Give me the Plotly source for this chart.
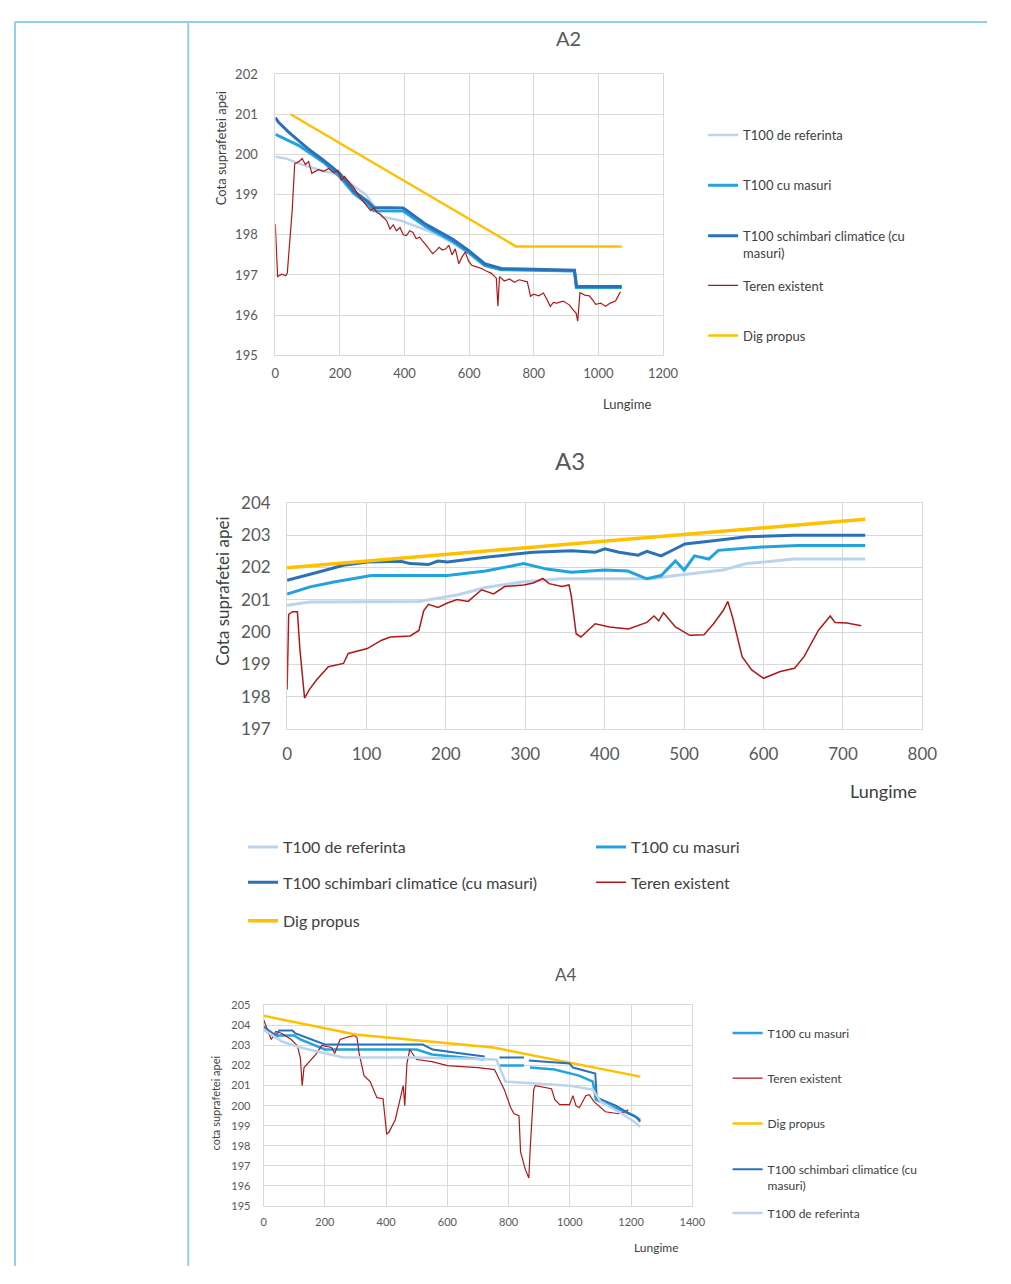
import plotly.graph_objects as go

# reference page size; the figure itself is drawn slightly smaller so the
# default 8px page margin of the html body keeps everything in view
W, H = 1011, 1284
PAGE_MARGIN = 8
FIG_W, FIG_H = W - 2 * PAGE_MARGIN, H - 2 * PAGE_MARGIN

FONT_FAMILY = "Lato"
COLOR_TEXT = "#595959"
COLOR_LEGEND = "#404040"
COLOR_GRID = "#d9d9d9"
COLOR_FRAME = "#92d0e8"

COLOR_REF = "#bcd3ec"
COLOR_CU = "#23a3dd"
COLOR_SCH = "#2b70b8"
COLOR_TEREN = "#b01818"
COLOR_DIG = "#ffc000"

NAME_REF = "T100 de referinta"
NAME_CU = "T100 cu masuri"
NAME_SCH = "T100 schimbari climatice (cu masuri)"
NAME_TEREN = "Teren existent"
NAME_DIG = "Dig propus"

# ---------------- A2 ----------------
A2_X_DIG = [47, 745, 1072]
A2_Y_DIG = [201.0, 197.71, 197.71]

A2_X_SCH = [0, 10, 42, 100, 150, 199, 244, 285, 305, 395, 405, 466, 547, 598, 648, 699, 800, 926, 932, 1072]
A2_Y_SCH = [200.92, 200.8, 200.55, 200.15, 199.85, 199.53, 199.08, 198.84, 198.68, 198.67, 198.62, 198.26, 197.9, 197.61, 197.28, 197.16, 197.14, 197.12, 196.71, 196.71]

A2_X_CU = [0, 73, 150, 199, 244, 285, 305, 395, 405, 466, 547, 598, 648, 699, 800, 926, 932, 1072]
A2_Y_CU = [200.5, 200.22, 199.8, 199.45, 199.02, 198.78, 198.6, 198.59, 198.54, 198.2, 197.85, 197.56, 197.24, 197.13, 197.12, 197.1, 196.69, 196.69]

A2_X_REF = [0, 32, 73, 143, 194, 280, 330, 390, 466, 517, 598, 648, 699, 800, 926, 936, 1072]
A2_Y_REF = [199.94, 199.9, 199.77, 199.6, 199.5, 199.0, 198.45, 198.35, 198.12, 197.94, 197.55, 197.23, 197.13, 197.12, 197.1, 196.68, 196.68]

A2_X_TEREN = [0, 4, 7, 20, 32, 37, 42, 52, 60, 73, 83, 93, 103, 113, 133, 150, 165, 180, 194, 204, 214, 230, 244, 260, 275, 295, 305,
              315, 325, 335, 345, 355, 365, 375, 386, 396, 406, 416, 426, 436, 446, 466, 487, 497, 507, 517, 528, 537, 547, 557,
              568, 578, 588, 598, 608, 623, 638, 653, 669, 684, 689, 694, 709, 725, 740, 755, 770, 780, 790, 800, 815, 830, 840,
              851, 861, 871, 891, 911, 921, 931, 936, 943, 958, 972, 982, 992, 1007, 1022, 1037, 1053, 1068]
A2_Y_TEREN = [198.26, 197.28, 196.96, 197.02, 196.98, 197.05, 197.53, 198.59, 199.77, 199.82, 199.9, 199.75, 199.82, 199.53, 199.62, 199.58, 199.65, 199.55, 199.6, 199.36, 199.45, 199.3, 199.16, 198.95, 198.8, 198.6, 198.67,
               198.55, 198.51, 198.42, 198.35, 198.14, 198.25, 198.1, 198.18, 198.0, 197.98, 198.1, 198.06, 197.9, 197.94, 197.75, 197.53, 197.6, 197.69, 197.62, 197.65, 197.74, 197.5, 197.65,
               197.28, 197.45, 197.57, 197.35, 197.24, 197.2, 197.16, 197.1, 197.04, 196.92, 196.22, 196.96, 196.85, 196.9, 196.82, 196.88, 196.85, 196.83, 196.47, 196.52, 196.48, 196.55, 196.4,
               196.22, 196.32, 196.3, 196.35, 196.25, 196.14, 196.05, 195.85, 196.56, 196.5, 196.48, 196.38, 196.27, 196.3, 196.22, 196.3, 196.35, 196.58]

# ---------------- A3 ----------------
A3_X_DIG = [0, 728]
A3_Y_DIG = [201.99, 203.49]

A3_X_SCH = [0, 20, 41, 71, 101, 143, 155, 178, 190, 202, 250, 310, 358, 388, 400, 418, 442, 453, 471, 489, 501, 537, 579, 638, 728]
A3_Y_SCH = [201.6, 201.72, 201.87, 202.07, 202.17, 202.19, 202.12, 202.09, 202.2, 202.17, 202.32, 202.47, 202.52, 202.47, 202.58, 202.47, 202.38, 202.5, 202.36, 202.58, 202.73, 202.83, 202.95, 203.0, 203.0]

A3_X_CU = [0, 11, 29, 59, 82, 106, 202, 250, 298, 327, 358, 400, 429, 453, 471, 489, 500, 513, 531, 543, 597, 644, 728]
A3_Y_CU = [201.18, 201.26, 201.4, 201.55, 201.65, 201.75, 201.75, 201.89, 202.12, 201.95, 201.85, 201.92, 201.89, 201.65, 201.75, 202.2, 201.92, 202.36, 202.26, 202.53, 202.63, 202.68, 202.68]

A3_X_REF = [0, 29, 166, 214, 250, 298, 346, 459, 489, 549, 579, 638, 728]
A3_Y_REF = [200.83, 200.93, 200.95, 201.15, 201.38, 201.56, 201.65, 201.65, 201.75, 201.92, 202.12, 202.26, 202.26]

A3_X_TEREN = [0, 2, 7, 13, 16, 22, 28, 37, 52, 71, 77, 101, 119, 130, 155, 166, 172, 178, 190, 202, 214, 228, 245, 260,
              274, 298, 310, 322, 330, 346, 355, 358, 364, 370, 388, 406, 430, 453, 462, 468, 474, 489, 507, 525, 537, 549, 555,
              561, 573, 585, 600, 609, 621, 639, 651, 669, 684, 690, 705, 723]
A3_Y_TEREN = [198.22, 200.55, 200.63, 200.63, 199.5, 197.96, 198.22, 198.52, 198.93, 199.03, 199.34, 199.49, 199.75, 199.85, 199.88, 200.05, 200.66, 200.86, 200.76, 200.9, 201.01, 200.95, 201.31, 201.18,
               201.41, 201.46, 201.52, 201.66, 201.5, 201.41, 201.46, 201.1, 199.95, 199.85, 200.26, 200.16, 200.1, 200.3, 200.5, 200.35, 200.6, 200.16, 199.9, 199.92, 200.26, 200.66, 200.95,
               200.45, 199.24, 198.83, 198.57, 198.67, 198.78, 198.88, 199.24, 200.05, 200.5, 200.3, 200.28, 200.2]

# ---------------- A4 ----------------
A4_X_DIG = [0, 300, 750, 1230]
A4_Y_DIG = [204.48, 203.55, 202.9, 201.45]

A4_X_CU = [0, 40, 50, 100, 120, 200, 500, 550, 720, None, 770, 850, None, 870, 950, 1030, 1075, 1085, 1150, 1210, 1230]
A4_Y_CU = [203.8, 203.4, 203.5, 203.5, 203.3, 202.8, 202.8, 202.55, 202.3, None, 202.0, 202.0, None, 201.9, 201.8, 201.5, 201.2, 200.3, 199.9, 199.5, 199.3]

A4_X_TEREN = [0, 10, 25, 40, 60, 90, 110, 120, 126, 132, 150, 170, 190, 222, 232, 240, 250, 270, 296, 305, 312, 328, 348, 370, 390,
              402, 410, 430, 448, 456, 461, 468, 477, 500, 550, 600, 650, 700, 754, 770, 786, 807, 818, 834, 839, 855, 866, 871,
              882, 887, 940, 951, 967, 999, 1010, 1020, 1031, 1052, 1063, 1079, 1116, 1159, 1180, 1191]
A4_Y_TEREN = [204.28, 203.9, 203.3, 203.7, 203.6, 203.3, 203.0, 202.4, 201.0, 201.9, 202.2, 202.55, 203.0, 202.9, 202.6, 202.95, 203.3, 203.4, 203.5, 203.4, 202.6, 201.5, 201.2, 200.4, 200.35,
               198.57, 198.7, 199.3, 200.6, 201.0, 200.0, 202.1, 202.8, 202.3, 202.2, 202.0, 201.95, 201.9, 201.8, 201.3, 200.8, 199.9, 199.6, 199.5, 197.7, 196.8, 196.4, 198.0,
               200.8, 201.0, 200.85, 200.3, 200.05, 200.05, 200.5, 200.0, 199.9, 200.5, 200.55, 200.2, 199.7, 199.6, 199.7, 199.8]

A4_X_SCH = [0, 40, 51, 94, 104, 200, 520, 552, 647, 722, None, 770, 850, None, 866, 999, 1010, 1083, 1088, 1150, 1218, 1230]
A4_Y_SCH = [203.95, 203.5, 203.75, 203.75, 203.6, 203.05, 203.05, 202.8, 202.6, 202.45, None, 202.4, 202.4, None, 202.25, 202.1, 201.9, 201.6, 200.4, 200.0, 199.4, 199.2]

A4_X_REF = [0, 60, 120, 200, 260, 500, 760, 790, 900, 1000, 1075, 1100, 1170, 1210, 1230]
A4_Y_REF = [203.8, 203.2, 202.9, 202.6, 202.4, 202.4, 202.3, 201.2, 201.1, 201.0, 200.8, 200.2, 199.6, 199.2, 198.95]


# page pixel -> paper coordinate
def px(x):
    return (x - PAGE_MARGIN) / FIG_W


def py(y):
    return 1 - (y - PAGE_MARGIN) / FIG_H


fig = go.Figure()


def add_line(x, y, name, color, width, axis, legend):
    fig.add_trace(go.Scatter(x=x, y=y, name=name, mode="lines",
                             line=dict(color=color, width=width),
                             xaxis="x" + axis, yaxis="y" + axis,
                             legend=legend, hoverinfo="skip"))


# A2 (axis 1) - order as in the Excel legend
add_line(A2_X_REF, A2_Y_REF, NAME_REF, COLOR_REF, 2.5, "", "legend")
add_line(A2_X_CU, A2_Y_CU, NAME_CU, COLOR_CU, 3, "", "legend2")
add_line(A2_X_SCH, A2_Y_SCH, "T100 schimbari climatice (cu<br>masuri)", COLOR_SCH, 3, "", "legend3")
add_line(A2_X_TEREN, A2_Y_TEREN, NAME_TEREN, COLOR_TEREN, 1.2, "", "legend4")
add_line(A2_X_DIG, A2_Y_DIG, NAME_DIG, COLOR_DIG, 2.5, "", "legend5")

# A3 (axis 2)
add_line(A3_X_REF, A3_Y_REF, NAME_REF, COLOR_REF, 3, "2", "legend6")
add_line(A3_X_CU, A3_Y_CU, NAME_CU, COLOR_CU, 3, "2", "legend6")
add_line(A3_X_SCH, A3_Y_SCH, NAME_SCH, COLOR_SCH, 3, "2", "legend7")
add_line(A3_X_TEREN, A3_Y_TEREN, NAME_TEREN, COLOR_TEREN, 1.5, "2", "legend7")
add_line(A3_X_DIG, A3_Y_DIG, NAME_DIG, COLOR_DIG, 3.5, "2", "legend8")

# A4 (axis 3)
add_line(A4_X_CU, A4_Y_CU, NAME_CU, COLOR_CU, 2.5, "3", "legend9")
add_line(A4_X_TEREN, A4_Y_TEREN, NAME_TEREN, COLOR_TEREN, 1.2, "3", "legend10")
add_line(A4_X_DIG, A4_Y_DIG, NAME_DIG, COLOR_DIG, 2.5, "3", "legend11")
add_line(A4_X_SCH, A4_Y_SCH, "T100 schimbari climatice (cu<br>masuri)", COLOR_SCH, 2, "3", "legend12")
add_line(A4_X_REF, A4_Y_REF, NAME_REF, COLOR_REF, 2.5, "3", "legend13")


def legend_box(x, y, size, **kw):
    d = dict(x=px(x), y=py(y), xanchor="left", yanchor="middle",
             bgcolor="rgba(0,0,0,0)", borderwidth=0,
             font=dict(family=FONT_FAMILY, size=size, color=COLOR_LEGEND))
    d.update(kw)
    return d


def axis_style(rng, dtick, size, standoff):
    return dict(range=rng, dtick=dtick, showgrid=True, gridcolor=COLOR_GRID, gridwidth=1,
                zeroline=False, showline=True, linecolor=COLOR_GRID, mirror=True,
                ticks="", ticklabelstandoff=standoff, fixedrange=True,
                tickfont=dict(family=FONT_FAMILY, size=size, color=COLOR_TEXT))


fig.update_layout(
    width=FIG_W, height=FIG_H,
    margin=dict(l=0, r=0, t=0, b=0),
    paper_bgcolor="white", plot_bgcolor="white",
    font=dict(family=FONT_FAMILY, color=COLOR_TEXT),
    showlegend=True,
    xaxis=dict(axis_style([0, 1200], 200, 13, 6), domain=[px(276), px(672)], anchor="y"),
    yaxis=dict(axis_style([195, 202], 1, 13, 14), domain=[py(350), py(64)], anchor="x"),
    xaxis2=dict(axis_style([0, 800], 100, 17, 10), domain=[px(288), px(937)], anchor="y2"),
    yaxis2=dict(axis_style([197, 204], 1, 17, 12), domain=[py(730), py(500)], anchor="x2"),
    xaxis3=dict(axis_style([0, 1400], 200, 11, 6), domain=[px(264), px(702)], anchor="y3"),
    yaxis3=dict(axis_style([195, 205], 1, 11, 10), domain=[py(1215), py(1011)], anchor="x3"),
    legend=legend_box(713, 126, 13),
    legend2=legend_box(713, 177, 13),
    legend3=legend_box(713, 237, 13, valign="top"),
    legend4=legend_box(713, 279, 13),
    legend5=legend_box(713, 330, 13),
    legend6=legend_box(243, 850, 16, orientation="h", entrywidth=303),
    legend7=legend_box(243, 886, 16, orientation="h", entrywidth=303),
    legend8=legend_box(243, 925, 16, orientation="h", entrywidth=303),
    legend9=legend_box(738, 1039, 12),
    legend10=legend_box(738, 1085, 12),
    legend11=legend_box(738, 1131, 12),
    legend12=legend_box(738, 1186, 12, valign="top"),
    legend13=legend_box(738, 1222, 12),
)


def text_at(x, y, text, size, angle=0, color=COLOR_TEXT):
    fig.add_annotation(x=px(x), y=py(y), xref="paper", yref="paper", text=text,
                       showarrow=False, textangle=angle, xanchor="center", yanchor="middle",
                       font=dict(family=FONT_FAMILY, size=size, color=color))


# chart titles
text_at(575, 27, "A2", 20)
text_at(577, 457, "A3", 24)
text_at(573, 980, "A4", 17)

# axis titles
text_at(220, 140, "Cota suprafetei apei", 13, -90, "#404040")
text_at(635, 399, "Lungime", 13, 0, "#404040")
text_at(222, 590, "Cota suprafetei apei", 17, -90, "#404040")
text_at(897, 793, "Lungime", 18, 0, "#404040")
text_at(215, 1110, "cota suprafetei apei", 11, -90, "#404040")
text_at(665, 1257, "Lungime", 12, 0, "#404040")

# page frame (table borders)
frame = dict(type="line", xref="paper", yref="paper", line=dict(color=COLOR_FRAME, width=2))
fig.add_shape(frame, x0=px(10), x1=1, y0=py(11), y1=py(11))
fig.add_shape(frame, x0=px(10), x1=px(10), y0=py(11), y1=0)
fig.add_shape(frame, x0=px(187), x1=px(187), y0=py(11), y1=0)

fig.write_html("out.html")
